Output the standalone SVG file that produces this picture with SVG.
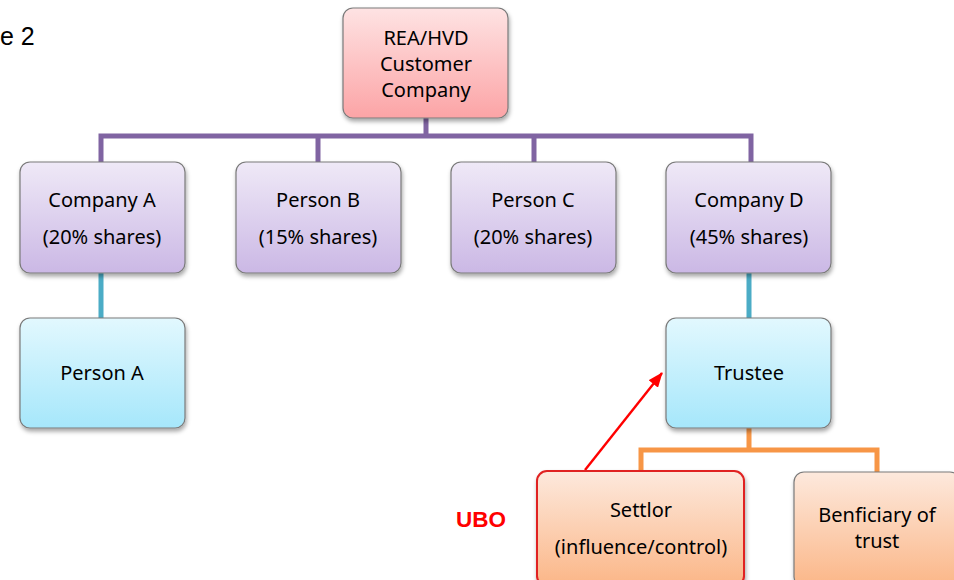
<svg xmlns="http://www.w3.org/2000/svg" width="954" height="580" viewBox="0 0 954 580">
  <defs>
    <linearGradient id="gPink" x1="0" y1="0" x2="0" y2="1">
      <stop offset="0" stop-color="#fee3e3"/>
      <stop offset="1" stop-color="#fca4a6"/>
    </linearGradient>
    <linearGradient id="gPurple" x1="0" y1="0" x2="0" y2="1">
      <stop offset="0" stop-color="#efe9f7"/>
      <stop offset="1" stop-color="#cbb8e5"/>
    </linearGradient>
    <linearGradient id="gCyan" x1="0" y1="0" x2="0" y2="1">
      <stop offset="0" stop-color="#e2f8fe"/>
      <stop offset="1" stop-color="#a6e7fb"/>
    </linearGradient>
    <linearGradient id="gOrange" x1="0" y1="0" x2="0" y2="1">
      <stop offset="0" stop-color="#fde9dd"/>
      <stop offset="1" stop-color="#fbb687"/>
    </linearGradient>
    <filter id="shadow" x="-10%" y="-10%" width="125%" height="130%">
      <feDropShadow dx="1" dy="3" stdDeviation="2" flood-color="#000" flood-opacity="0.35"/>
    </filter>
    <marker id="arrowRed" viewBox="0 0 15 12" refX="14" refY="6" markerWidth="15" markerHeight="12" orient="auto" markerUnits="userSpaceOnUse">
      <path d="M0,0 L15,6 L0,12 z" fill="#ff0000"/>
    </marker>
  </defs>
  <style>
    text { font-family: "Noto Sans", "Liberation Sans", sans-serif; font-size: 20px; fill: #000; text-anchor: middle; dominant-baseline: central; }
    .box { stroke: #7a7a7a; stroke-width: 1.2; filter: url(#shadow); }
    .pink { fill: url(#gPink); }
    .purple { fill: url(#gPurple); }
    .cyan { fill: url(#gCyan); }
    .orange { fill: url(#gOrange); }
    .conn { fill: none; stroke-width: 5; }
  </style>

  <rect width="954" height="580" fill="#ffffff"/>

  <text x="0" y="36" style="font-family:'Liberation Sans',Arial,sans-serif;font-size:25px;text-anchor:start">e 2</text>

  <g id="connectors">
    <path class="conn" stroke="#8064a2" d="M426,118 V136 M101,162 V136 H751 V162 M318,136 V162 M534,136 V162"/>
    <path class="conn" stroke="#4bacc6" d="M101,273 V318 M749,273 V318"/>
    <path class="conn" stroke="#f79646" d="M749,428 V450 M641,472 V450 H877 V472"/>
    <line x1="585" y1="470" x2="662" y2="373" stroke="#ff0000" stroke-width="2.4" marker-end="url(#arrowRed)"/>
  </g>

  <g id="customer">
    <rect class="box pink" x="343" y="8" width="165" height="110" rx="10"/>
    <text x="426" y="37">REA/HVD</text>
    <text x="426" y="63">Customer</text>
    <text x="426" y="89">Company</text>
  </g>

  <g id="companyA">
    <rect class="box purple" x="20" y="162" width="165" height="111" rx="10"/>
    <text x="102" y="199">Company A</text>
    <text x="102" y="236">(20% shares)</text>
  </g>

  <g id="personB">
    <rect class="box purple" x="236" y="162" width="165" height="111" rx="10"/>
    <text x="318" y="199">Person B</text>
    <text x="318" y="236">(15% shares)</text>
  </g>

  <g id="personC">
    <rect class="box purple" x="451" y="162" width="165" height="111" rx="10"/>
    <text x="533" y="199">Person C</text>
    <text x="533" y="236">(20% shares)</text>
  </g>

  <g id="companyD">
    <rect class="box purple" x="666" y="162" width="165" height="111" rx="10"/>
    <text x="749" y="199">Company D</text>
    <text x="749" y="236">(45% shares)</text>
  </g>

  <g id="personA">
    <rect class="box cyan" x="20" y="318" width="165" height="110" rx="10"/>
    <text x="102" y="372">Person A</text>
  </g>

  <g id="trustee">
    <rect class="box cyan" x="666" y="318" width="165" height="110" rx="10"/>
    <text x="749" y="372">Trustee</text>
  </g>

  <g id="settlor">
    <rect class="box orange" x="537" y="471" width="207" height="115" rx="10" style="stroke:#e02020;stroke-width:2"/>
    <text x="641" y="509">Settlor</text>
    <text x="641" y="546">(influence/control)</text>
  </g>

  <g id="beneficiary">
    <rect class="box orange" x="794" y="472" width="166" height="115" rx="10"/>
    <text x="877" y="514">Benficiary of</text>
    <text x="877" y="540">trust</text>
  </g>

  <text x="481" y="519" style="font-family:'Liberation Sans',Arial,sans-serif;font-weight:bold;font-size:22.5px;fill:#ff0000">UBO</text>
</svg>
